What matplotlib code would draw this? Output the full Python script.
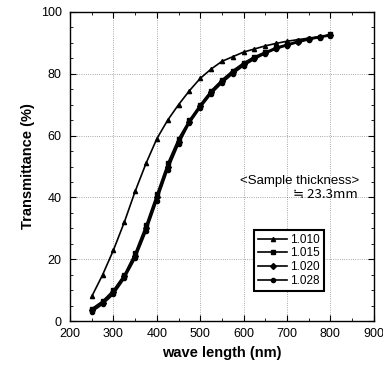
import matplotlib
matplotlib.use("Agg")
import matplotlib.pyplot as plt
from matplotlib.ticker import MultipleLocator

plt.rcParams['font.family'] = ['Liberation Sans', 'DejaVu Sans']

# wavelength (nm) and transmittance (%) per refractive index
wave = [250, 275, 300, 325, 350, 375, 400, 425, 450, 475, 500, 525,
        550, 575, 600, 625, 650, 675, 700, 725, 750, 775, 800]
t_1010 = [8, 15, 23, 32, 42, 51, 59, 65, 70, 74.5, 78.5, 81.5,
          84, 85.5, 87, 88, 89, 89.8, 90.5, 91, 91.5, 92, 92.5]
t_1015 = [4, 6.5, 10, 15, 22, 31, 41, 51, 59, 65, 70, 74.5,
          78, 81, 83.5, 85.5, 87, 88.5, 89.5, 90.5, 91.3, 92, 92.7]
t_1020 = [3.5, 6, 9.3, 14.5, 21, 30, 40, 50, 58, 64.5, 69.5, 74,
          77.5, 80.5, 83, 85, 86.7, 88.2, 89.3, 90.3, 91.2, 91.9, 92.5]
t_1028 = [3, 5.5, 8.7, 13.8, 20.3, 29, 39, 49, 57.3, 64, 69, 73.5,
          77, 80, 82.6, 84.7, 86.5, 88, 89.1, 90.1, 91, 91.7, 92.3]

labels = ['1.010', '1.015', '1.020', '1.028']
series = [t_1010, t_1015, t_1020, t_1028]
markers = ['^', 's', 'D', 'o']

fig = plt.figure(figsize=(3.83, 3.70), dpi=100)
ax = fig.add_axes([0.183, 0.132, 0.793, 0.836])

for lab, vals, m in zip(labels, series, markers):
    ax.plot(wave, vals, color='black', linewidth=1.2, marker=m,
            markersize=3, label=lab)

ax.set_xlim(200, 900)
ax.set_ylim(0, 100)
ax.xaxis.set_major_locator(MultipleLocator(100))
ax.xaxis.set_minor_locator(MultipleLocator(50))
ax.yaxis.set_major_locator(MultipleLocator(20))
ax.yaxis.set_minor_locator(MultipleLocator(5))
ax.tick_params(which='both', direction='in', top=True, right=True)
ax.tick_params(which='major', length=4, labelsize=9)
ax.tick_params(axis='y', which='major', pad=6)
ax.tick_params(axis='x', which='major', pad=5)
ax.tick_params(which='minor', length=2)
ax.grid(which='major', linestyle=':', color='black', linewidth=0.6, alpha=0.45)
for s in ax.spines.values():
    s.set_linewidth(1.0)

ax.set_xlabel('wave length (nm)', fontsize=10.5, fontweight='bold')
ax.set_ylabel('Transmittance (%)', fontsize=10.5, fontweight='bold')

ax.text(730, 45.3, '<Sample thickness>', fontsize=9.5, ha='center', va='center')
ax.text(862, 40.8, '\u2252 23.3mm', fontsize=9.5, ha='right', va='center',
        family=['Noto Sans CJK JP', 'DejaVu Sans'])

leg = ax.legend(loc='lower left', bbox_to_anchor=(0.585, 0.078), fontsize=8.5,
                handlelength=2.5, handletextpad=0.2, borderpad=0.35,
                labelspacing=0.15, fancybox=False, framealpha=1,
                edgecolor='black')
leg.get_frame().set_linewidth(1.5)

fig.savefig('out.png', dpi=100)
